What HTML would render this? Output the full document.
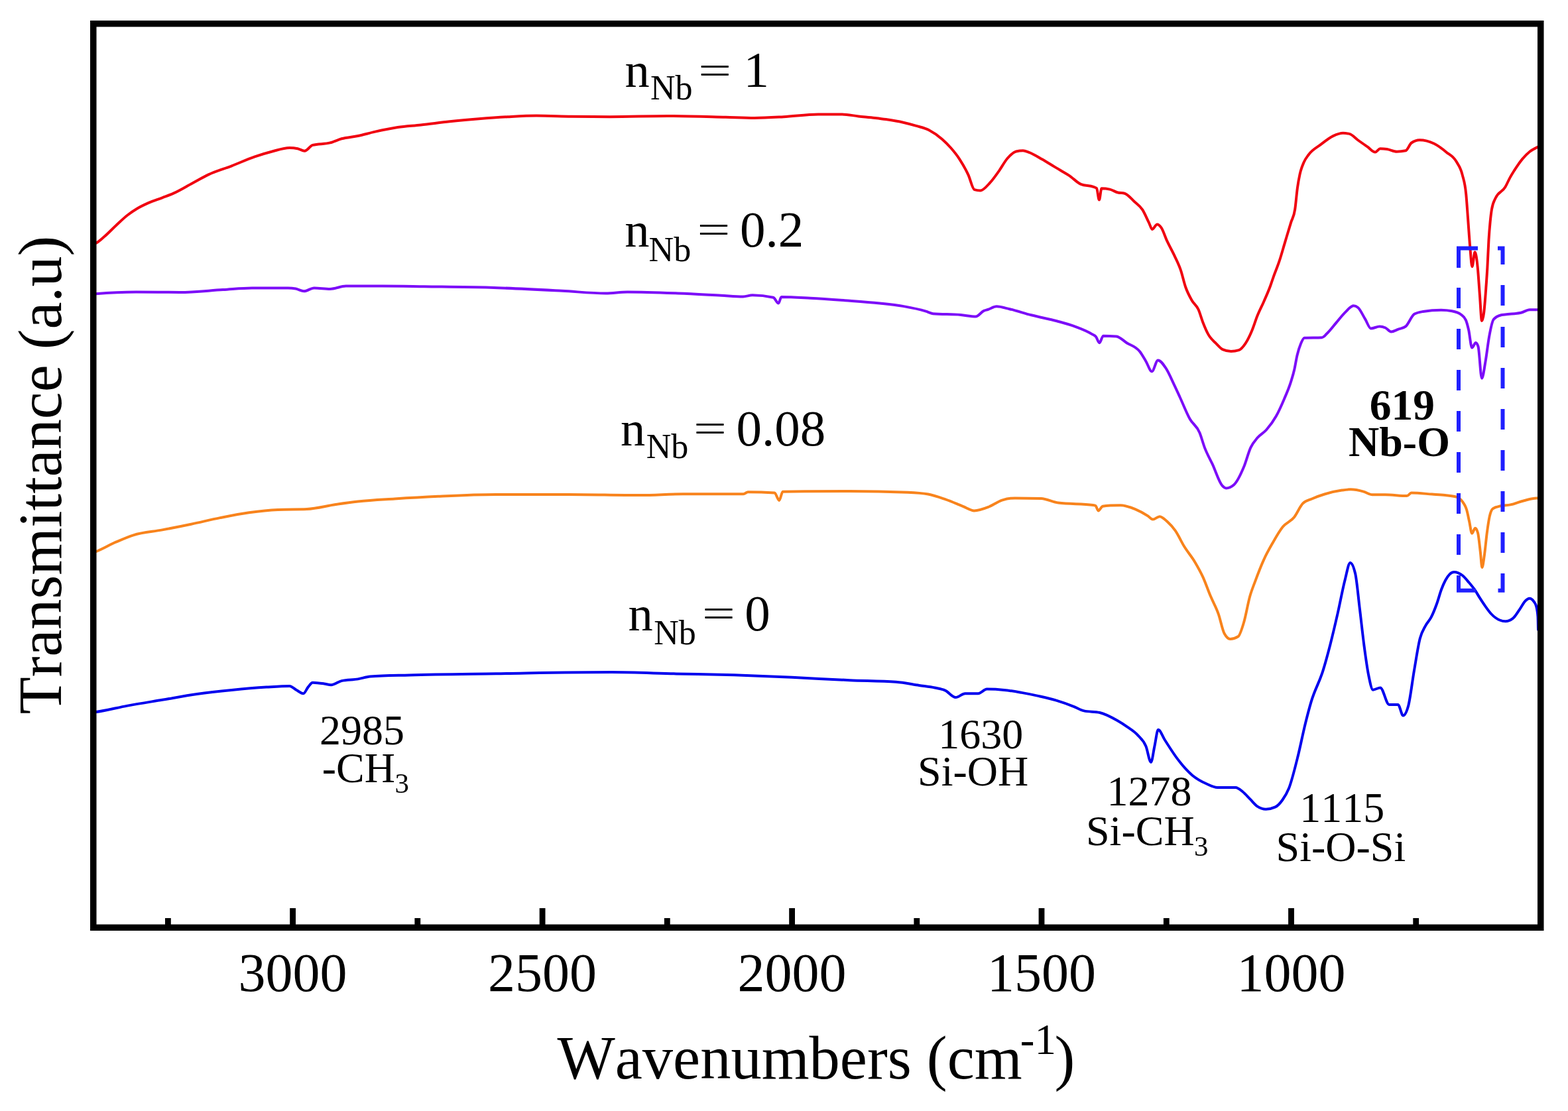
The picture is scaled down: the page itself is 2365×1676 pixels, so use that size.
<!DOCTYPE html><html><head><meta charset="utf-8"><title>FTIR spectra</title>
<style>html,body{margin:0;padding:0;background:#fff;}svg{display:block;}text{font-family:'Liberation Serif','Times New Roman',serif;fill:#000;font-kerning:none;}</style></head><body>
<svg width="2365" height="1676" viewBox="0 0 2365 1676">
<rect x="0" y="0" width="2365" height="1676" fill="#fff"/>
<path d="M141.0,368.0 C141.83,367.80 142.67,367.59 143.5,367.3 C148.17,365.66 152.83,360.72 157.5,356.8 C163.30,351.92 169.10,345.57 174.9,340.2 C180.73,334.80 186.57,329.04 192.4,324.5 C197.03,320.90 201.67,317.80 206.3,315.0 C212.13,311.48 217.97,308.80 223.8,306.2 C230.77,303.09 237.73,301.00 244.7,298.3 C250.53,296.04 256.37,294.02 262.2,291.4 C271.47,287.24 280.73,281.46 290.0,276.5 C298.17,272.13 306.33,267.23 314.5,263.4 C326.13,257.94 337.77,254.80 349.4,250.3 C361.03,245.80 372.67,240.39 384.3,236.4 C393.03,233.40 401.77,230.73 410.5,228.5 C419.23,226.27 427.97,223.00 436.7,223.0 C440.80,223.00 444.90,223.40 449.0,224.2 C452.47,224.88 455.93,227.70 459.4,227.7 C463.47,227.70 467.53,219.99 471.6,218.9 C480.33,216.57 489.07,217.71 497.8,215.4 C503.60,213.87 509.40,210.91 515.2,209.3 C523.47,207.01 531.73,206.73 540.0,205.0 C548.30,203.26 556.60,200.77 564.9,198.9 C576.53,196.28 588.17,193.73 599.8,192.0 C611.43,190.27 623.07,189.78 634.7,188.5 C649.23,186.91 663.77,184.75 678.3,183.2 C692.87,181.65 707.43,180.37 722.0,179.2 C736.53,178.04 751.07,176.98 765.6,176.2 C780.13,175.42 794.67,174.50 809.2,174.5 C826.67,174.50 844.13,175.42 861.6,175.7 C881.07,176.01 900.53,176.20 920.0,176.2 C949.00,176.20 978.00,175.00 1007.0,175.0 C1036.17,175.00 1065.33,176.06 1094.5,176.8 C1109.00,177.17 1123.50,178.00 1138.0,178.0 C1152.60,178.00 1167.20,177.01 1181.8,176.2 C1199.20,175.23 1216.60,172.40 1234.0,172.4 C1245.67,172.40 1257.33,172.40 1269.0,172.4 C1277.67,172.40 1286.33,174.45 1295.0,175.4 C1303.33,176.31 1311.67,177.00 1320.0,178.0 C1325.40,178.65 1330.80,179.31 1336.2,180.1 C1344.93,181.39 1353.67,182.72 1362.4,184.7 C1368.93,186.18 1375.47,187.93 1382.0,189.9 C1388.53,191.87 1395.07,193.13 1401.6,196.5 C1408.17,199.89 1414.73,204.40 1421.3,210.2 C1425.63,214.03 1429.97,218.31 1434.3,223.3 C1438.67,228.33 1443.03,233.53 1447.4,240.3 C1451.77,247.07 1456.13,254.46 1460.5,263.9 C1463.57,270.53 1466.63,285.22 1469.7,286.1 C1472.73,286.97 1475.77,287.40 1478.8,287.4 C1483.60,287.40 1488.40,280.84 1493.2,275.7 C1497.57,271.03 1501.93,264.72 1506.3,258.6 C1510.67,252.48 1515.03,244.02 1519.4,239.0 C1523.77,233.98 1528.13,229.58 1532.5,228.5 C1536.00,227.63 1539.50,227.20 1543.0,227.2 C1546.03,227.20 1549.07,228.70 1552.1,229.8 C1558.67,232.19 1565.23,236.57 1571.8,240.3 C1578.33,244.01 1584.87,248.21 1591.4,252.1 C1594.27,253.81 1597.13,255.49 1600.0,257.2 C1604.10,259.65 1608.20,261.91 1612.3,264.6 C1618.47,268.64 1624.63,275.73 1630.8,278.2 C1636.97,280.67 1643.13,279.45 1649.3,281.9 C1650.87,282.52 1652.43,282.60 1654.0,284.0 C1655.30,285.16 1656.60,301.60 1657.9,301.6 C1659.10,301.60 1660.30,284.30 1661.5,284.3 C1665.63,284.30 1669.77,284.73 1673.9,285.6 C1678.00,286.46 1682.10,289.51 1686.2,290.5 C1689.50,291.30 1692.80,290.90 1696.1,291.7 C1701.00,292.89 1705.90,299.47 1710.8,304.0 C1714.93,307.82 1719.07,309.93 1723.2,316.4 C1726.47,321.51 1729.73,329.56 1733.0,336.1 C1734.63,339.37 1736.27,345.90 1737.9,345.9 C1740.37,345.90 1742.83,338.50 1745.3,338.5 C1747.37,338.50 1749.43,340.46 1751.5,343.4 C1754.37,347.48 1757.23,356.96 1760.1,363.2 C1764.20,372.13 1768.30,378.79 1772.4,387.8 C1775.27,394.10 1778.13,399.34 1781.0,407.9 C1783.33,414.87 1785.67,425.65 1788.0,432.5 C1791.23,441.99 1794.47,447.48 1797.7,453.2 C1801.00,459.03 1804.30,459.56 1807.6,467.0 C1809.90,472.19 1812.20,480.79 1814.5,486.7 C1817.13,493.46 1819.77,499.63 1822.4,504.4 C1826.33,511.52 1830.27,514.16 1834.2,518.2 C1837.47,521.55 1840.73,525.62 1844.0,527.1 C1848.27,529.03 1852.53,530.00 1856.8,530.0 C1860.77,530.00 1864.73,529.37 1868.7,528.1 C1871.97,527.06 1875.23,523.09 1878.5,518.2 C1881.80,513.26 1885.10,506.46 1888.4,498.5 C1891.03,492.15 1893.67,483.40 1896.3,476.8 C1899.57,468.62 1902.83,462.71 1906.1,455.2 C1909.40,447.61 1912.70,440.57 1916.0,431.5 C1917.57,427.20 1919.13,422.24 1920.7,417.8 C1923.63,409.49 1926.57,403.01 1929.5,394.2 C1932.47,385.29 1935.43,374.45 1938.4,364.6 C1941.37,354.75 1944.33,344.83 1947.3,335.1 C1949.27,328.65 1951.23,328.70 1953.2,315.9 C1954.43,307.87 1955.67,292.27 1956.9,283.4 C1958.13,274.53 1959.37,268.37 1960.6,262.7 C1962.57,253.66 1964.53,249.67 1966.5,245.0 C1968.97,239.14 1971.43,236.58 1973.9,233.2 C1979.80,225.11 1985.70,222.93 1991.6,218.4 C1998.00,213.49 2004.40,208.10 2010.8,205.1 C2015.73,202.78 2020.67,200.70 2025.6,200.7 C2029.03,200.70 2032.47,201.20 2035.9,202.2 C2039.83,203.35 2043.77,208.14 2047.7,211.0 C2052.63,214.58 2057.57,217.98 2062.5,221.4 C2066.43,224.13 2070.37,229.50 2074.3,229.5 C2076.77,229.50 2079.23,224.30 2081.7,224.3 C2085.13,224.30 2088.57,224.53 2092.0,225.0 C2096.93,225.67 2101.87,228.70 2106.8,228.7 C2111.23,228.70 2115.67,228.23 2120.1,227.3 C2123.03,226.68 2125.97,217.57 2128.9,215.5 C2132.97,212.63 2137.03,211.20 2141.1,211.2 C2148.47,211.20 2155.83,213.15 2163.2,216.8 C2169.37,219.85 2175.53,224.57 2181.7,229.7 C2186.63,233.80 2191.57,235.11 2196.5,243.6 C2199.57,248.88 2202.63,251.30 2205.7,263.9 C2207.57,271.57 2209.43,273.86 2211.3,293.4 C2212.23,303.17 2213.17,317.60 2214.1,330.0 C2215.13,343.73 2216.17,359.98 2217.2,371.9 C2218.27,384.21 2219.33,402.30 2220.4,402.3 C2221.80,402.30 2223.20,380.30 2224.6,380.3 C2225.97,380.30 2227.33,389.89 2228.7,403.3 C2229.77,413.77 2230.83,431.55 2231.9,445.2 C2232.93,458.43 2233.97,484.00 2235.0,484.0 C2236.07,484.00 2237.13,479.80 2238.2,471.4 C2239.23,463.26 2240.27,448.85 2241.3,434.7 C2242.00,425.11 2242.70,415.52 2243.4,403.3 C2244.10,391.08 2244.80,372.78 2245.5,361.4 C2246.20,350.02 2246.90,342.33 2247.6,335.0 C2248.40,326.62 2249.20,320.34 2250.0,315.6 C2251.87,304.53 2253.73,303.24 2255.6,299.0 C2260.50,287.87 2265.40,290.64 2270.3,282.3 C2272.77,278.10 2275.23,272.04 2277.7,267.6 C2279.57,264.24 2281.43,261.27 2283.3,258.3 C2287.60,251.46 2291.90,245.05 2296.2,239.9 C2299.90,235.47 2303.60,231.77 2307.3,228.8 C2311.60,225.35 2315.90,223.37 2320.2,221.4" fill="none" stroke="#f00010" stroke-width="4.0" stroke-linejoin="round" stroke-linecap="round"/>
<path d="M141.0,443.5 C142.13,443.40 143.27,443.30 144.4,443.2 C164.73,441.45 185.07,440.40 205.4,440.4 C227.23,440.40 249.07,441.00 270.9,441.0 C292.70,441.00 314.50,438.40 336.3,437.1 C350.87,436.23 365.43,434.50 380.0,434.5 C398.17,434.50 416.33,434.50 434.5,434.5 C438.33,434.50 442.17,434.83 446.0,435.5 C450.17,436.22 454.33,439.30 458.5,439.3 C463.60,439.30 468.70,434.50 473.8,434.5 C481.80,434.50 489.80,436.00 497.8,436.0 C505.80,436.00 513.80,431.60 521.8,431.6 C539.97,431.60 558.13,431.60 576.3,431.6 C597.53,431.60 618.77,432.03 640.0,432.3 C673.00,432.72 706.00,432.82 739.0,433.8 C775.33,434.88 811.67,436.89 848.0,438.8 C869.87,439.95 891.73,442.50 913.6,442.5 C924.50,442.50 935.40,440.40 946.3,440.4 C971.77,440.40 997.23,441.48 1022.7,442.5 C1044.47,443.37 1066.23,444.68 1088.0,445.8 C1098.93,446.36 1109.87,447.50 1120.8,447.5 C1125.50,447.50 1130.20,445.30 1134.9,445.3 C1145.37,445.30 1155.83,446.47 1166.3,448.8 C1168.93,449.39 1171.57,457.50 1174.2,457.5 C1175.63,457.50 1177.07,447.90 1178.5,447.9 C1193.07,447.90 1207.63,448.93 1222.2,449.7 C1239.63,450.62 1257.07,451.90 1274.5,453.2 C1291.97,454.50 1309.43,455.61 1326.9,457.5 C1338.53,458.76 1350.17,459.87 1361.8,461.9 C1373.43,463.93 1385.07,466.12 1396.7,469.7 C1400.20,470.78 1403.70,472.90 1407.2,473.2 C1421.13,474.40 1435.07,473.80 1449.0,475.0 C1456.57,475.65 1464.13,477.60 1471.7,477.6 C1475.77,477.60 1479.83,470.71 1483.9,468.9 C1485.93,467.99 1487.97,467.66 1490.0,467.0 C1494.37,465.57 1498.73,462.30 1503.1,462.3 C1509.63,462.30 1516.17,464.71 1522.7,466.2 C1533.60,468.69 1544.50,472.49 1555.4,475.3 C1568.50,478.68 1581.60,480.90 1594.7,484.5 C1603.43,486.90 1612.17,489.13 1620.9,492.4 C1629.63,495.67 1638.37,498.67 1647.1,504.1 C1649.07,505.32 1651.03,505.54 1653.0,508.0 C1654.73,510.17 1656.47,517.20 1658.2,517.2 C1660.17,517.20 1662.13,506.80 1664.1,506.8 C1670.63,506.80 1677.17,507.00 1683.7,507.4 C1688.93,507.72 1694.17,513.84 1699.4,517.2 C1705.97,521.42 1712.53,521.81 1719.1,530.3 C1722.13,534.22 1725.17,539.71 1728.2,544.7 C1731.27,549.74 1734.33,560.40 1737.4,560.4 C1740.43,560.40 1743.47,543.40 1746.5,543.4 C1750.43,543.40 1754.37,549.40 1758.3,555.2 C1762.67,561.64 1767.03,572.24 1771.4,581.4 C1774.27,587.42 1777.13,593.78 1780.0,600.0 C1784.93,610.71 1789.87,623.45 1794.8,632.3 C1799.70,641.09 1804.60,640.96 1809.5,653.0 C1811.97,659.06 1814.43,668.55 1816.9,675.1 C1820.83,685.54 1824.77,691.71 1828.7,700.2 C1833.63,710.84 1838.57,727.40 1843.5,732.7 C1845.47,734.81 1847.43,736.40 1849.4,736.4 C1853.33,736.40 1857.27,734.67 1861.2,731.2 C1866.13,726.85 1871.07,716.48 1876.0,704.6 C1879.47,696.25 1882.93,682.50 1886.4,675.1 C1889.83,667.78 1893.27,664.41 1896.7,660.3 C1901.13,654.99 1905.57,653.51 1910.0,648.5 C1914.93,642.93 1919.87,636.70 1924.8,627.8 C1928.73,620.70 1932.67,611.97 1936.6,602.7 C1940.07,594.53 1943.53,587.19 1947.0,576.1 C1948.73,570.56 1950.47,565.37 1952.2,557.8 C1953.63,551.54 1955.07,542.08 1956.5,536.0 C1958.33,528.22 1960.17,522.87 1962.0,518.5 C1963.83,514.13 1965.67,509.87 1967.5,509.8 C1976.20,509.47 1984.90,509.63 1993.6,509.3 C1996.17,509.20 1998.73,505.65 2001.3,503.3 C2006.00,499.00 2010.70,492.38 2015.4,486.9 C2019.77,481.81 2024.13,475.87 2028.5,471.6 C2032.87,467.33 2037.23,461.30 2041.6,461.3 C2043.80,461.30 2046.00,462.20 2048.2,464.0 C2051.83,466.97 2055.47,475.53 2059.1,481.4 C2062.00,486.09 2064.90,495.60 2067.8,495.6 C2072.17,495.60 2076.53,492.40 2080.9,492.4 C2083.80,492.40 2086.70,493.15 2089.6,494.5 C2092.50,495.85 2095.40,500.50 2098.3,500.5 C2101.93,500.50 2105.57,498.04 2109.2,496.7 C2112.87,495.34 2116.53,495.27 2120.2,492.4 C2124.53,489.01 2128.87,476.31 2133.2,473.8 C2137.57,471.27 2141.93,470.70 2146.3,470.0 C2155.40,468.53 2164.50,467.80 2173.6,467.8 C2179.07,467.80 2184.53,468.30 2190.0,469.3 C2194.53,470.13 2199.07,471.03 2203.6,474.5 C2206.03,476.36 2208.47,477.30 2210.9,482.9 C2212.30,486.12 2213.70,491.48 2215.1,497.5 C2216.80,504.81 2218.50,524.50 2220.2,524.5 C2222.07,524.50 2223.93,517.10 2225.8,517.1 C2227.03,517.10 2228.27,518.97 2229.5,522.7 C2231.33,528.25 2233.17,570.70 2235.0,570.7 C2236.87,570.70 2238.73,555.40 2240.6,544.8 C2242.43,534.39 2244.27,517.87 2246.1,507.9 C2248.33,495.75 2250.57,484.48 2252.8,481.8 C2256.30,477.60 2259.80,476.53 2263.3,475.5 C2265.57,474.83 2267.83,474.82 2270.1,474.5 C2278.13,473.38 2286.17,473.60 2294.2,471.8 C2298.50,470.84 2302.80,467.20 2307.1,467.2 C2311.40,467.20 2315.70,467.20 2320.0,467.2" fill="none" stroke="#7c0cf8" stroke-width="4.0" stroke-linejoin="round" stroke-linecap="round"/>
<path d="M141.0,833.5 C141.83,833.20 142.67,832.91 143.5,832.6 C153.97,828.74 164.43,822.22 174.9,817.7 C183.63,813.93 192.37,810.06 201.1,807.3 C215.63,802.71 230.17,802.17 244.7,799.4 C259.23,796.63 273.77,793.75 288.3,790.7 C302.87,787.65 317.43,784.02 332.0,781.1 C346.53,778.19 361.07,775.23 375.6,773.2 C390.13,771.17 404.67,769.50 419.2,768.9 C433.77,768.30 448.33,768.60 462.9,768.0 C477.43,767.40 491.97,763.09 506.5,761.0 C517.67,759.39 528.83,757.83 540.0,756.6 C558.47,754.57 576.93,753.72 595.4,752.5 C617.23,751.06 639.07,749.80 660.9,748.8 C690.00,747.46 719.10,746.00 748.2,746.0 C784.53,746.00 820.87,746.00 857.2,746.0 C893.57,746.00 929.93,747.10 966.3,747.1 C987.53,747.10 1008.77,745.30 1030.0,745.3 C1060.40,745.30 1090.80,745.30 1121.2,745.3 C1123.53,745.30 1125.87,742.30 1128.2,742.3 C1141.57,742.30 1154.93,742.73 1168.3,743.6 C1170.63,743.75 1172.97,754.90 1175.3,754.9 C1177.07,754.90 1178.83,741.83 1180.6,741.8 C1214.33,741.20 1248.07,740.90 1281.8,740.9 C1310.87,740.90 1339.93,741.50 1369.0,742.7 C1379.33,743.13 1389.67,743.63 1400.0,745.5 C1408.73,747.08 1417.47,750.35 1426.2,753.4 C1434.93,756.45 1443.67,760.38 1452.4,763.8 C1458.07,766.02 1463.73,770.40 1469.4,770.4 C1476.80,770.40 1484.20,767.38 1491.6,764.5 C1498.17,761.95 1504.73,756.88 1511.3,754.7 C1517.83,752.53 1524.37,751.40 1530.9,751.4 C1544.00,751.40 1557.10,751.63 1570.2,752.1 C1578.90,752.41 1587.60,757.50 1596.3,758.6 C1613.77,760.80 1631.23,759.70 1648.7,761.9 C1649.97,762.06 1651.23,762.27 1652.5,763.0 C1653.83,763.77 1655.17,770.40 1656.5,770.4 C1658.70,770.40 1660.90,764.28 1663.1,763.8 C1667.03,762.93 1670.97,762.66 1674.9,762.5 C1679.93,762.30 1684.97,762.20 1690.0,762.2 C1697.40,762.20 1704.80,765.06 1712.2,768.1 C1718.60,770.73 1725.00,774.20 1731.4,778.4 C1733.87,780.02 1736.33,783.60 1738.8,783.6 C1742.23,783.60 1745.67,779.20 1749.1,779.2 C1753.07,779.20 1757.03,783.71 1761.0,787.3 C1764.93,790.86 1768.87,794.96 1772.8,800.6 C1777.23,806.96 1781.67,817.05 1786.1,824.3 C1791.50,833.13 1796.90,838.76 1802.3,847.9 C1806.27,854.61 1810.23,861.44 1814.2,870.1 C1818.13,878.69 1822.07,890.23 1826.0,899.6 C1829.93,908.97 1833.87,915.04 1837.8,926.3 C1840.77,934.79 1843.73,950.33 1846.7,955.8 C1849.67,961.27 1852.63,964.00 1855.6,964.0 C1859.53,964.00 1863.47,962.77 1867.4,960.3 C1870.37,958.44 1873.33,948.24 1876.3,938.1 C1879.23,928.08 1882.17,910.45 1885.1,900.0 C1887.77,890.50 1890.43,884.37 1893.1,877.1 C1897.47,865.19 1901.83,853.90 1906.2,844.3 C1910.57,834.70 1914.93,827.16 1919.3,819.5 C1924.53,810.32 1929.77,801.04 1935.0,794.6 C1940.67,787.62 1946.33,787.40 1952.0,780.2 C1956.37,774.66 1960.73,763.70 1965.1,759.3 C1969.47,754.90 1973.83,754.66 1978.2,752.7 C1984.73,749.77 1991.27,747.50 1997.8,745.5 C2006.53,742.82 2015.27,740.83 2024.0,739.6 C2028.37,738.98 2032.73,738.30 2037.1,738.3 C2043.63,738.30 2050.17,739.78 2056.7,741.6 C2061.07,742.81 2065.43,746.20 2069.8,746.2 C2076.33,746.20 2082.87,746.20 2089.4,746.2 C2100.30,746.20 2111.20,748.10 2122.1,748.1 C2124.30,748.10 2126.50,743.60 2128.7,743.6 C2139.13,743.60 2149.57,744.85 2160.0,745.6 C2166.57,746.07 2173.13,746.34 2179.7,747.1 C2185.30,747.75 2190.90,747.93 2196.5,749.6 C2199.77,750.57 2203.03,752.31 2206.3,757.4 C2208.27,760.46 2210.23,762.51 2212.2,769.3 C2213.53,773.90 2214.87,781.02 2216.2,787.0 C2217.50,792.83 2218.80,804.70 2220.1,804.7 C2221.73,804.70 2223.37,796.80 2225.0,796.8 C2226.33,796.80 2227.67,799.10 2229.0,803.7 C2230.30,808.19 2231.60,822.25 2232.9,833.3 C2233.73,840.38 2234.57,856.00 2235.4,856.0 C2236.53,856.00 2237.67,845.90 2238.8,838.2 C2240.13,829.14 2241.47,813.64 2242.8,803.7 C2244.10,794.01 2245.40,785.05 2246.7,779.1 C2248.33,771.62 2249.97,768.41 2251.6,767.3 C2255.53,764.63 2259.47,764.27 2263.4,763.3 C2268.33,762.09 2273.27,762.40 2278.2,761.4 C2284.77,760.07 2291.33,757.15 2297.9,755.5 C2304.47,753.85 2311.03,751.50 2317.6,751.5 C2318.40,751.50 2319.20,751.50 2320.0,751.5" fill="none" stroke="#f8831c" stroke-width="4.0" stroke-linejoin="round" stroke-linecap="round"/>
<path d="M141.0,1074.5 C141.83,1074.40 142.67,1074.30 143.5,1074.2 C159.80,1072.18 176.10,1067.58 192.4,1064.6 C209.83,1061.41 227.27,1058.71 244.7,1055.8 C262.17,1052.88 279.63,1049.57 297.1,1047.1 C314.53,1044.64 331.97,1042.75 349.4,1041.0 C366.87,1039.25 384.33,1037.70 401.8,1036.6 C413.43,1035.87 425.07,1034.90 436.7,1034.9 C440.20,1034.90 443.70,1039.11 447.2,1041.0 C450.67,1042.87 454.13,1046.20 457.6,1046.2 C459.93,1046.20 462.27,1039.35 464.6,1036.6 C466.93,1033.85 469.27,1029.70 471.6,1029.7 C477.40,1029.70 483.20,1030.57 489.0,1031.4 C492.50,1031.90 496.00,1033.20 499.5,1033.2 C504.73,1033.20 509.97,1028.24 515.2,1027.1 C523.47,1025.30 531.73,1025.79 540.0,1024.4 C546.13,1023.37 552.27,1020.94 558.4,1020.5 C578.03,1019.10 597.67,1018.99 617.3,1018.4 C660.93,1017.10 704.57,1016.85 748.2,1016.2 C806.37,1015.33 864.53,1014.00 922.7,1014.0 C955.13,1014.00 987.57,1015.65 1020.0,1016.4 C1049.10,1017.07 1078.20,1017.40 1107.3,1018.3 C1136.37,1019.20 1165.43,1020.48 1194.5,1021.8 C1223.60,1023.12 1252.70,1024.95 1281.8,1026.2 C1305.07,1027.20 1328.33,1027.07 1351.6,1028.8 C1363.23,1029.67 1374.87,1032.27 1386.5,1034.0 C1394.33,1035.17 1402.17,1035.81 1410.0,1037.5 C1415.23,1038.63 1420.47,1039.17 1425.7,1041.6 C1430.93,1044.03 1436.17,1052.10 1441.4,1052.1 C1446.20,1052.10 1451.00,1046.20 1455.8,1046.2 C1462.33,1046.20 1468.87,1046.20 1475.4,1046.2 C1479.77,1046.20 1484.13,1039.60 1488.5,1039.6 C1497.23,1039.60 1505.97,1040.03 1514.7,1040.9 C1523.43,1041.77 1532.17,1043.37 1540.9,1044.9 C1549.63,1046.43 1558.37,1048.15 1567.1,1050.1 C1575.80,1052.05 1584.50,1053.99 1593.2,1056.6 C1601.93,1059.22 1610.67,1062.36 1619.4,1065.8 C1624.63,1067.86 1629.87,1071.25 1635.1,1072.4 C1642.97,1074.13 1650.83,1073.27 1658.7,1075.0 C1667.43,1076.92 1676.17,1081.84 1684.9,1086.8 C1689.93,1089.66 1694.97,1092.82 1700.0,1096.4 C1705.47,1100.29 1710.93,1103.25 1716.4,1109.4 C1720.40,1113.90 1724.40,1115.95 1728.4,1125.8 C1730.93,1132.04 1733.47,1149.80 1736.0,1149.8 C1737.80,1149.80 1739.60,1133.91 1741.4,1125.8 C1743.23,1117.54 1745.07,1100.70 1746.9,1100.7 C1750.17,1100.70 1753.43,1110.97 1756.7,1116.0 C1763.27,1126.10 1769.83,1136.82 1776.4,1145.4 C1783.67,1154.89 1790.93,1163.22 1798.2,1169.4 C1805.47,1175.58 1812.73,1179.23 1820.0,1182.5 C1825.43,1184.95 1830.87,1188.00 1836.3,1188.0 C1845.40,1188.00 1854.50,1188.00 1863.6,1188.0 C1867.23,1188.00 1870.87,1191.60 1874.5,1194.5 C1878.13,1197.40 1881.77,1201.77 1885.4,1205.4 C1889.03,1209.03 1892.67,1213.86 1896.3,1216.3 C1900.67,1219.23 1905.03,1220.70 1909.4,1220.7 C1914.13,1220.70 1918.87,1219.60 1923.6,1217.4 C1927.23,1215.71 1930.87,1211.71 1934.5,1206.5 C1937.67,1201.96 1940.83,1197.30 1944.0,1189.3 C1948.57,1177.76 1953.13,1158.87 1957.7,1140.5 C1961.40,1125.62 1965.10,1106.62 1968.8,1091.7 C1971.77,1079.74 1974.73,1068.39 1977.7,1058.4 C1983.60,1038.52 1989.50,1030.94 1995.4,1011.9 C1999.10,999.96 2002.80,986.32 2006.5,971.9 C2010.20,957.48 2013.90,941.65 2017.6,925.4 C2021.30,909.15 2025.00,888.52 2028.7,874.4 C2031.30,864.48 2033.90,848.90 2036.5,848.9 C2039.07,848.90 2041.63,854.43 2044.2,865.5 C2046.43,875.13 2048.67,900.44 2050.9,918.7 C2053.10,936.69 2055.30,957.66 2057.5,974.2 C2059.73,990.99 2061.97,1007.42 2064.2,1018.5 C2066.43,1029.58 2068.67,1040.70 2070.9,1040.7 C2074.57,1040.70 2078.23,1037.40 2081.9,1037.4 C2086.33,1037.40 2090.77,1062.90 2095.2,1062.9 C2099.67,1062.90 2104.13,1062.90 2108.6,1062.9 C2111.17,1062.90 2113.73,1079.50 2116.3,1079.5 C2118.90,1079.50 2121.50,1074.70 2124.1,1065.1 C2127.03,1054.27 2129.97,1028.81 2132.9,1011.9 C2135.87,994.79 2138.83,974.48 2141.8,963.1 C2144.53,952.62 2147.27,949.34 2150.0,944.1 C2152.87,938.60 2155.73,936.80 2158.6,931.2 C2161.47,925.60 2164.33,918.53 2167.2,910.5 C2169.50,904.06 2171.80,895.12 2174.1,889.0 C2176.13,883.59 2178.17,878.95 2180.2,875.2 C2182.20,871.51 2184.20,868.61 2186.2,866.6 C2188.50,864.29 2190.80,863.10 2193.1,863.1 C2197.40,863.10 2201.70,864.88 2206.0,868.3 C2209.17,870.82 2212.33,874.87 2215.5,878.6 C2218.67,882.33 2221.83,886.03 2225.0,890.7 C2227.30,894.10 2229.60,898.29 2231.9,901.9 C2234.77,906.40 2237.63,910.78 2240.5,914.8 C2243.37,918.82 2246.23,922.92 2249.1,926.0 C2253.43,930.66 2257.77,933.79 2262.1,935.5 C2264.97,936.63 2267.83,937.20 2270.7,937.2 C2274.43,937.20 2278.17,935.77 2281.9,932.9 C2285.33,930.26 2288.77,923.97 2292.2,919.1 C2295.10,914.99 2298.00,908.93 2300.9,906.2 C2302.90,904.32 2304.90,902.80 2306.9,902.8 C2309.20,902.80 2311.50,904.50 2313.8,907.9 C2314.93,909.58 2316.07,910.20 2317.2,914.8 C2317.97,917.91 2318.73,919.87 2319.5,930.0 C2319.67,932.20 2319.83,941.10 2320.0,950.0" fill="none" stroke="#0000ee" stroke-width="4.0" stroke-linejoin="round" stroke-linecap="round"/>
<path d="M2200.0,404 L2200.0,374.5 L2229,374.5 M2259,374.5 L2266.5,374.5 L2266.5,399 M2200.0,434 L2200.0,465 M2200.0,496 L2200.0,527 M2200.0,558 L2200.0,589 M2200.0,620 L2200.0,651 M2200.0,682 L2200.0,713 M2200.0,744 L2200.0,775 M2200.0,806 L2200.0,837 M2266.5,430 L2266.5,461 M2266.5,493 L2266.5,524 M2266.5,555 L2266.5,586 M2266.5,617 L2266.5,648 M2266.5,679 L2266.5,710 M2266.5,741 L2266.5,772 M2266.5,803 L2266.5,834 M2200.0,868 L2200.0,890.7 L2226,890.7 M2259.5,890.7 L2266.5,890.7 L2266.5,865" fill="none" stroke="#2020ff" stroke-width="6" stroke-linejoin="miter" stroke-linecap="butt"/>
<rect x="140.75" y="35.75" width="2183" height="1363.5" fill="none" stroke="#000" stroke-width="9.5"/>
<path d="M441.6,1399 L441.6,1370 M818.1,1399 L818.1,1370 M1194.6,1399 L1194.6,1370 M1571.0,1399 L1571.0,1370 M1947.5,1399 L1947.5,1370 M253.4,1399 L253.4,1385 M629.8,1399 L629.8,1385 M1006.3,1399 L1006.3,1385 M1382.8,1399 L1382.8,1385 M1759.3,1399 L1759.3,1385 M2135.7,1399 L2135.7,1385" stroke="#000" stroke-width="8.8" fill="none"/>
<text x="441.6" y="1495" font-size="82" text-anchor="middle">3000</text>
<text x="818.1" y="1495" font-size="82" text-anchor="middle">2500</text>
<text x="1194.6" y="1495" font-size="82" text-anchor="middle">2000</text>
<text x="1571.0" y="1495" font-size="82" text-anchor="middle">1500</text>
<text x="1947.5" y="1495" font-size="82" text-anchor="middle">1000</text>
<text x="942.6" y="131.3" font-size="74.5">n</text>
<text x="980.9" y="150.3" font-size="52">Nb</text>
<text transform="translate(1053.3,125.6) scale(1.15,0.775)" x="0" y="0" font-size="77">=</text>
<text x="1121.5" y="131.3" font-size="77">1</text>
<text x="942.3" y="371.7" font-size="74.5">n</text>
<text x="978.6" y="393.6" font-size="52">Nb</text>
<text transform="translate(1051.6,366.0) scale(1.15,0.775)" x="0" y="0" font-size="77">=</text>
<text x="1115.9" y="372.0" font-size="77">0.2</text>
<text x="935.9" y="672.0" font-size="74.5">n</text>
<text x="974.8" y="690.5" font-size="52">Nb</text>
<text transform="translate(1046.1,666.3) scale(1.15,0.775)" x="0" y="0" font-size="77">=</text>
<text x="1110.5" y="672.0" font-size="77">0.08</text>
<text x="947.4" y="950.6" font-size="74.5">n</text>
<text x="986.2" y="972.2" font-size="52">Nb</text>
<text transform="translate(1059.1,944.9) scale(1.15,0.775)" x="0" y="0" font-size="77">=</text>
<text x="1123.3" y="951.0" font-size="77">0</text>
<text x="482.1" y="1122.6" font-size="64">2985</text>
<text x="485.8" y="1179.5" font-size="64">-CH</text>
<text x="595.4" y="1195.9" font-size="43">3</text>
<text x="1415.2" y="1128.5" font-size="64">1630</text>
<text x="1384.1" y="1185.2" font-size="64">Si-OH</text>
<text x="1669.6" y="1215.4" font-size="64">1278</text>
<text x="1638.0" y="1275.1" font-size="64">Si-CH</text>
<text x="1801.0" y="1290.9" font-size="43">3</text>
<text x="1960.2" y="1239.7" font-size="64">1115</text>
<text x="1924.6" y="1299.4" font-size="64">Si-O-Si</text>
<text x="2065.8" y="633.1" font-size="65.5" font-weight="bold">619</text>
<text x="2034.0" y="687.8" font-size="64" font-weight="bold">Nb-O</text>
<text x="840.5" y="1627.2" font-size="92.5">Wavenumbers (cm</text>
<text x="1538.8" y="1589.6" font-size="65">-1</text>
<text x="1590.5" y="1627.2" font-size="92.5">)</text>
<text transform="translate(91.7,1077.6) rotate(-90)" x="0" y="0" font-size="92.2">Transmittance (a.u)</text>
</svg></body></html>
